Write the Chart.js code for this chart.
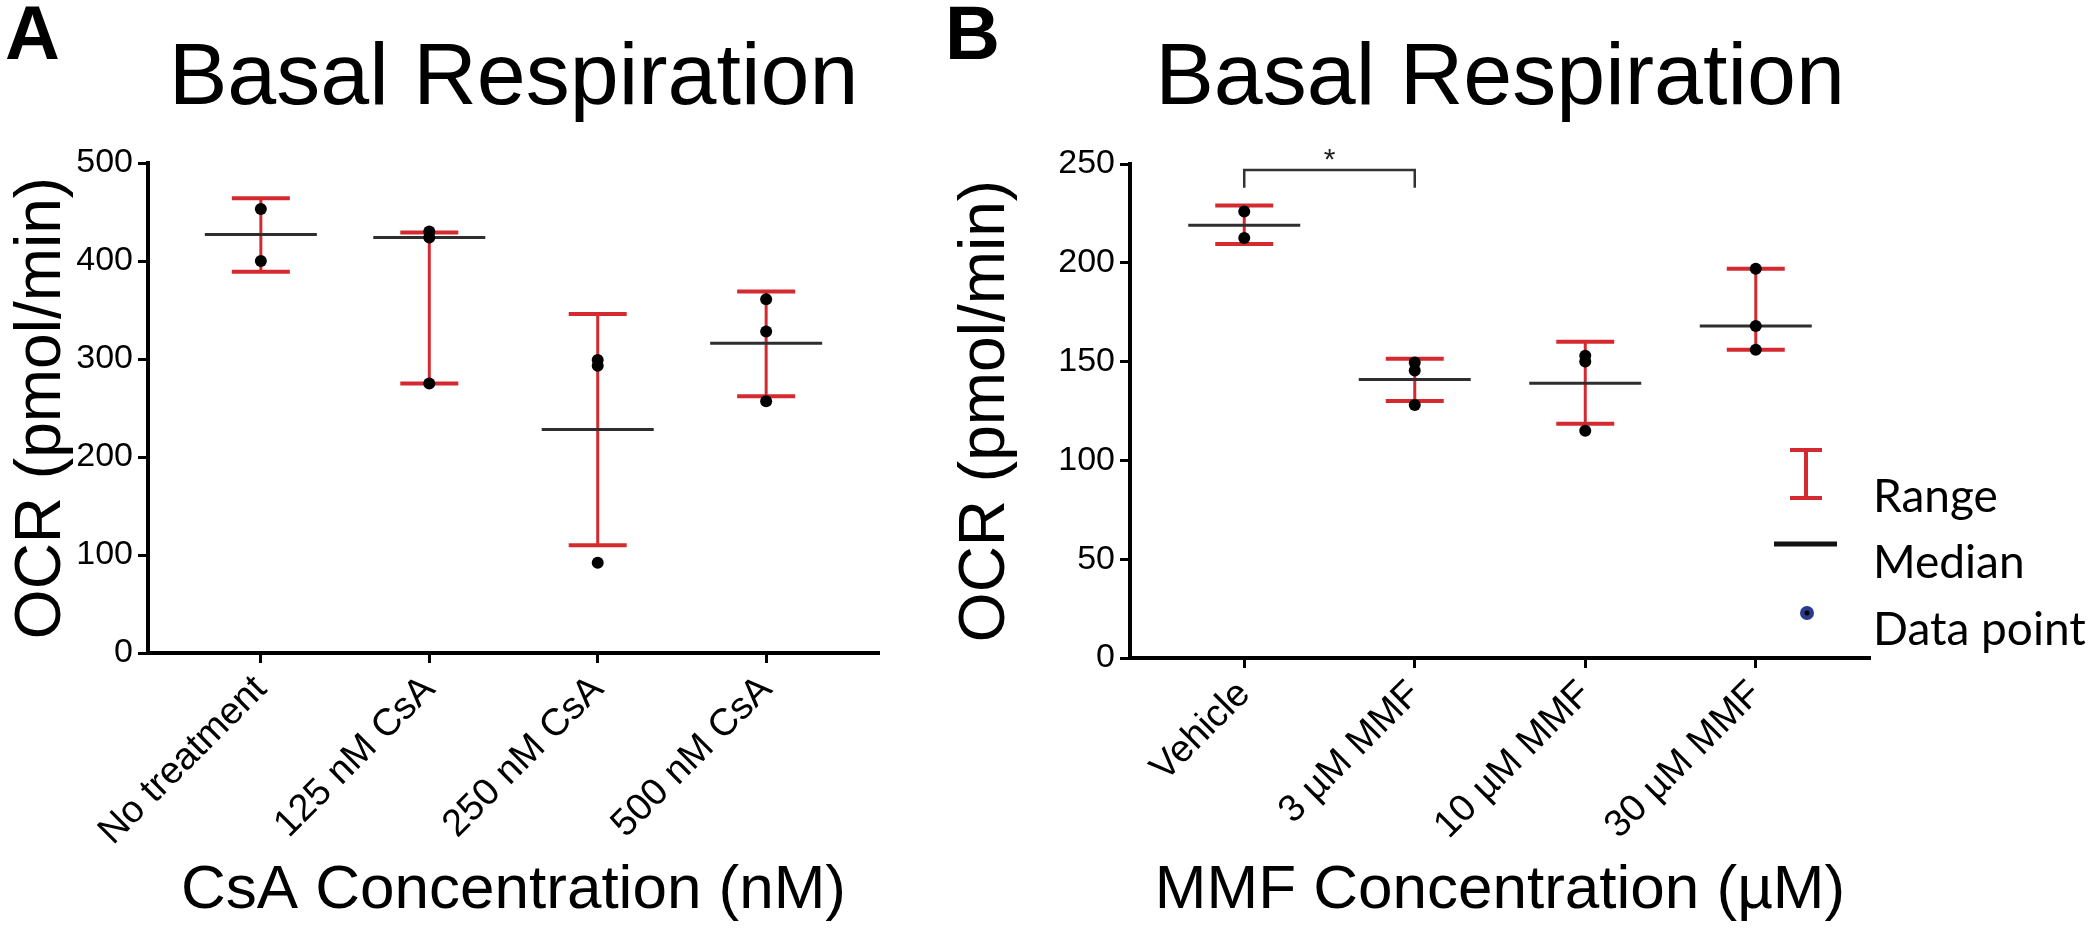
<!DOCTYPE html>
<html>
<head>
<meta charset="utf-8">
<script src="https://cdn.jsdelivr.net/npm/chart.js@4.4.1/dist/chart.umd.min.js"></script>
<style>
html,body{margin:0;padding:0;background:#fff;overflow:hidden;width:2100px;height:933px;}
canvas{position:absolute;top:0;}
#cA{left:0;}
#cB{left:945px;}
</style>
</head>
<body>
<canvas id="cA" width="945" height="933"></canvas>
<canvas id="cB" width="1155" height="933"></canvas>
<script>
// ---------- data ----------
const panelTitle = 'Basal Respiration';
const yTitle = 'OCR (pmol/min)';

const panelLetterA = 'A';
const xTitleA = 'CsA Concentration (nM)';
const catsA = ['No treatment', '125 nM CsA', '250 nM CsA', '500 nM CsA'];
const minA = [389, 275, 110, 262];
const maxA = [464, 429, 346, 369];
const medA = [427, 424, 228, 316];
const ptsA = [[453, 400], [430, 424, 275], [299, 293, 92], [361, 328, 257]];
const yTicksA = [0, 100, 200, 300, 400, 500];

const panelLetterB = 'B';
const xTitleB = 'MMF Concentration (µM)';
const catsB = ['Vehicle', '3 µM MMF', '10 µM MMF', '30 µM MMF'];
const minB = [209.5, 130, 118.5, 156];
const maxB = [229, 151.5, 160, 197];
const medB = [219, 141, 139, 168];
const ptsB = [[226, 212.5], [149.5, 145.5, 128], [153, 150, 115], [197, 168, 156]];
const yTicksB = [0, 50, 100, 150, 200, 250];
const sigFromB = 0, sigToB = 1, sigTopB = 247, sigLegB = 238, sigLabelB = '*';

const legendLabels = ['Range', 'Median', 'Data point'];

// ---------- styles ----------
const RED = '#d42a2f';
const MED = '#2e2e2e';
const FONT = "'Liberation Sans', Arial, Helvetica, sans-serif";
const LEGFONT = "Lato, 'Open Sans', sans-serif";

function buildDatasets(cats, mins, maxs, meds, pts) {
  const ds = [];
  ds.push({type: 'scatter', label: 'Data point',
    data: pts.flatMap((g, i) => g.map(v => ({x: i, y: v}))),
    pointRadius: 6, pointHoverRadius: 6, pointBackgroundColor: '#000', pointBorderWidth: 0, order: 0});
  ds.push({type: 'scatter', label: 'Median',
    data: meds.map((v, i) => ({x: i, y: v})),
    pointStyle: 'line', pointRadius: 56, pointHoverRadius: 56, pointBorderColor: MED, pointBorderWidth: 3, order: 1});
  ds.push({type: 'scatter', label: 'Range max',
    data: maxs.map((v, i) => ({x: i, y: v})),
    pointStyle: 'line', pointRadius: 29, pointHoverRadius: 29, pointBorderColor: RED, pointBorderWidth: 4, order: 2});
  ds.push({type: 'scatter', label: 'Range min',
    data: mins.map((v, i) => ({x: i, y: v})),
    pointStyle: 'line', pointRadius: 29, pointHoverRadius: 29, pointBorderColor: RED, pointBorderWidth: 4, order: 2});
  cats.forEach((c, i) => ds.push({type: 'line', label: 'Range ' + c,
    data: [{x: i, y: mins[i]}, {x: i, y: maxs[i]}],
    borderColor: RED, borderWidth: 3, pointRadius: 0, pointHoverRadius: 0, order: 3}));
  return ds;
}

function axisGrid() {
  return {display: true, drawOnChartArea: false, drawTicks: true, tickLength: 10, tickWidth: 3, tickColor: '#000'};
}

function buildScales(cats, yTicks, yWidth, xHeight, xTitle, yTitlePad) {
  return {
    x: {
      type: 'linear', min: -0.67, max: cats.length - 1 + 0.67,
      afterBuildTicks: s => { s.ticks = cats.map((c, i) => ({value: i})); },
      afterFit: s => { s.height = xHeight; },
      ticks: {autoSkip: false, minRotation: 45, maxRotation: 45, padding: 4, color: '#000',
        font: {family: FONT, size: 38}, callback: v => cats[v]},
      grid: axisGrid(),
      border: {display: true, color: '#000', width: 4},
      title: {display: true, text: xTitle, color: '#000', font: {family: FONT, size: 62, lineHeight: 1},
        padding: {top: 0, bottom: 11}}
    },
    y: {
      type: 'linear', min: yTicks[0], max: yTicks[yTicks.length - 1],
      afterBuildTicks: s => { s.ticks = yTicks.map(v => ({value: v})); },
      afterFit: s => { s.width = yWidth; },
      ticks: {padding: 5, color: '#000', font: {family: FONT, size: 34}},
      grid: axisGrid(),
      border: {display: true, color: '#000', width: 4},
      title: {display: true, text: yTitle, color: '#000', font: {family: FONT, size: 64, lineHeight: 1},
        padding: {top: yTitlePad, bottom: 0}}
    }
  };
}

function buildPlugins(letter, subPadBottom) {
  return {
    legend: {display: false},
    tooltip: {enabled: false},
    title: {display: true, text: letter, align: 'start', color: '#000',
      font: {family: FONT, size: 76, weight: 'bold', lineHeight: 0.5}, padding: {top: 19, bottom: 0}},
    subtitle: {display: true, text: panelTitle, align: 'center', fullSize: false, color: '#000',
      font: {family: FONT, size: 88, weight: 'normal', lineHeight: 0.5}, padding: {top: 0.5, bottom: subPadBottom}}
  };
}

const sigPlugin = {
  id: 'sigStar',
  afterDatasetsDraw(chart) {
    const {ctx, scales: {x, y}} = chart;
    ctx.save();
    ctx.fillStyle = '#222';
    ctx.font = '30px ' + FONT;
    ctx.textAlign = 'center';
    ctx.textBaseline = 'alphabetic';
    ctx.fillText(sigLabelB, (x.getPixelForValue(sigFromB) + x.getPixelForValue(sigToB)) / 2, y.getPixelForValue(sigTopB) - 1);
    ctx.restore();
  }
};

const legendPlugin = {
  id: 'rangeLegend',
  afterDraw(chart) {
    const {ctx, chartArea: {right, bottom}} = chart;
    const ix = right - 64, tx = right + 3;
    const base = [bottom - 146, bottom - 80, bottom - 13];
    ctx.save();
    // range I-beam
    let cy = base[0] - 38;
    ctx.strokeStyle = RED; ctx.lineWidth = 4; ctx.lineCap = 'butt';
    ctx.beginPath();
    ctx.moveTo(ix - 16, cy - 24); ctx.lineTo(ix + 16, cy - 24);
    ctx.moveTo(ix, cy - 24); ctx.lineTo(ix, cy + 24);
    ctx.moveTo(ix - 16, cy + 24); ctx.lineTo(ix + 16, cy + 24);
    ctx.stroke();
    // median
    cy = base[1] - 34;
    ctx.strokeStyle = '#111'; ctx.lineWidth = 5;
    ctx.beginPath(); ctx.moveTo(ix - 32, cy); ctx.lineTo(ix + 31, cy); ctx.stroke();
    // data point
    cy = base[2] - 32;
    ctx.fillStyle = '#2a3a8f';
    ctx.beginPath(); ctx.arc(ix + 1, cy, 7, 0, Math.PI * 2); ctx.fill();
    ctx.fillStyle = '#000';
    ctx.beginPath(); ctx.arc(ix + 1, cy, 2.5, 0, Math.PI * 2); ctx.fill();
    // labels
    ctx.fillStyle = '#000';
    ctx.font = '46px ' + LEGFONT;
    ctx.textAlign = 'left';
    ctx.textBaseline = 'alphabetic';
    legendLabels.forEach((t, i) => ctx.fillText(t, tx, base[i]));
    ctx.restore();
  }
};

function build() {
  new Chart(document.getElementById('cA'), {
    type: 'scatter',
    data: {datasets: buildDatasets(catsA, minA, maxA, medA, ptsA)},
    options: {
      responsive: false, animation: false, devicePixelRatio: 1,
      layout: {padding: {left: 5, right: 66, top: 0, bottom: 0}},
      scales: buildScales(catsA, yTicksA, 143, 280, xTitleA, 5),
      plugins: buildPlugins(panelLetterA, 61.5)
    }
  });

  const dsB = buildDatasets(catsB, minB, maxB, medB, ptsB);
  dsB.push({type: 'line', label: 'significance',
    data: [{x: sigFromB, y: sigLegB}, {x: sigFromB, y: sigTopB}, {x: sigToB, y: sigTopB}, {x: sigToB, y: sigLegB}],
    borderColor: '#333', borderWidth: 2.5, pointRadius: 0, pointHoverRadius: 0, tension: 0, order: 4});

  new Chart(document.getElementById('cB'), {
    type: 'scatter',
    data: {datasets: dsB},
    options: {
      responsive: false, animation: false, devicePixelRatio: 1,
      layout: {padding: {left: 0, right: 230, top: 0, bottom: 0}},
      scales: buildScales(catsB, yTicksB, 185, 275, xTitleB, 9),
      plugins: buildPlugins(panelLetterB, 62.5)
    },
    plugins: [sigPlugin, legendPlugin]
  });
}

Promise.all([
  document.fonts.load('34px "Liberation Sans"'),
  document.fonts.load('bold 76px "Liberation Sans"'),
  document.fonts.load('46px Lato')
]).catch(() => {}).then(build);
</script>
</body>
</html>
